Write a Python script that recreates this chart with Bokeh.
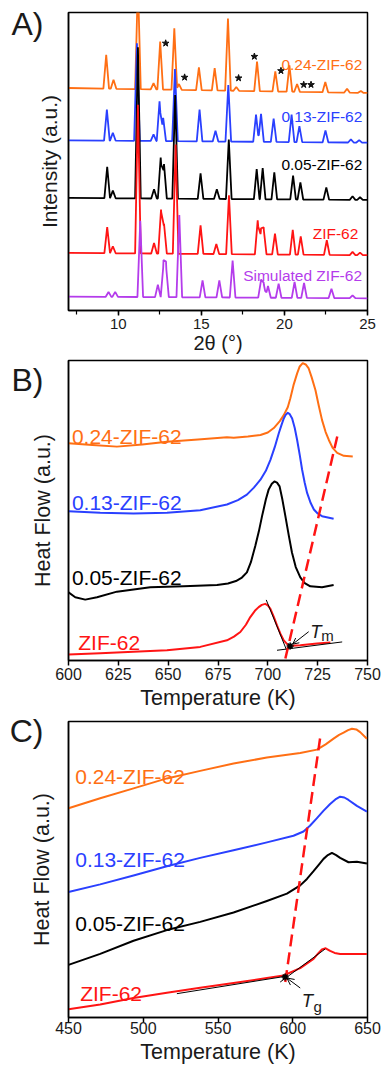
from bokeh.plotting import figure
from bokeh.layouts import column
from bokeh.models import Range1d, Label, Arrow, OpenHead, SingleIntervalTicker, FixedTicker
from bokeh.embed import file_html
from bokeh.resources import INLINE

FONT = "Liberation Sans"
C_ORANGE = "#FF6F14"
C_BLUE = "#2A40FF"
C_BLACK = "#000000"
C_RED = "#FF1414"
C_PURPLE = "#B43CEB"
TXT = "#1a1a1a"

# ---------------- Panel A: PXRD (peak tables) ----------------
xrd_range = [7, 25]
xrd_yrange = [0, 300]

orange_x = [9.27, 9.71, 11.18, 12.12, 12.52, 13.37, 13.65, 14.85, 15.80, 16.60, 17.10, 18.35, 19.45, 20.30, 20.76, 22.46, 23.77, 24.60]
orange_y = [257.3, 232.3, 330.0, 229.0, 270.7, 284.0, 228.0, 244.7, 244.0, 294.0, 225.0, 250.7, 240.7, 246.7, 228.0, 230.0, 223.3, 221.0]
orange_base = [224.0, 219.0]

blue_x = [9.31, 9.67, 11.12, 12.12, 12.48, 12.70, 13.41, 14.89, 15.85, 16.62, 18.29, 18.59, 19.35, 20.43, 20.90, 22.47, 24.00, 24.50]
blue_y = [202.3, 179.0, 269.0, 177.3, 210.7, 194.0, 243.0, 202.3, 181.0, 227.0, 197.3, 198.0, 193.3, 197.3, 185.7, 181.3, 172.3, 171.5]
blue_base = [171.3, 169.0]

black_x = [9.33, 9.67, 11.18, 12.15, 12.55, 12.75, 13.42, 14.95, 15.93, 16.65, 18.33, 18.69, 19.39, 20.52, 20.96, 22.52, 24.10, 24.55]
black_y = [144.7, 120.7, 265.0, 122.0, 154.0, 147.3, 217.0, 138.0, 122.0, 172.0, 142.3, 143.3, 139.0, 135.7, 129.0, 124.0, 115.0, 114.0]
black_base = [113.3, 111.3]

red_x = [9.33, 9.67, 11.18, 12.15, 12.57, 12.75, 13.45, 14.95, 15.90, 16.66, 18.39, 18.59, 18.75, 19.43, 20.50, 20.98, 22.55, 24.10, 24.55]
red_y = [84.0, 64.7, 207.0, 68.0, 101.7, 87.3, 167.0, 85.7, 67.0, 116.0, 90.7, 81.3, 82.3, 77.3, 81.3, 74.7, 70.7, 59.0, 58.3]
red_base = [58.0, 55.7]

purple_x = [9.41, 9.81, 11.32, 12.38, 12.72, 12.87, 13.67, 15.07, 16.08, 16.88, 18.59, 18.75, 19.01, 19.65, 20.61, 21.18, 22.83, 24.10]
purple_y = [18.7, 18.7, 90.3, 26.0, 47.0, 45.3, 96.0, 30.3, 30.3, 50.3, 30.3, 27.0, 24.7, 27.0, 28.7, 27.7, 22.0, 15.3]
purple_base = [14.0, 12.3]

star_x = [12.85, 13.99, 17.24, 18.19, 19.79, 21.16, 21.60]
star_y = [269.0, 234.7, 234.0, 255.7, 241.3, 227.3, 227.3]

xrd_names = ["0.24-ZIF-62", "0.13-ZIF-62", "0.05-ZIF-62", "ZIF-62", "Simulated ZIF-62"]
xrd_label_x = [24.69, 24.69, 24.69, 24.45, 24.67]
xrd_label_y = [247.2, 195.8, 147.2, 77.2, 34.8]

# ---------------- Panel B: DSC melting ----------------
B_xrange = [600, 750]
B_yrange = [0, 302]
B_orange_T = [600, 612, 624.3, 637, 649.4, 665, 679.5, 682.9, 690, 696.3, 700, 703, 706, 708, 710, 711.3, 713, 714.7, 716, 717.5, 719, 720.5, 722, 723.9, 725.5, 727.2, 729, 730.6, 732.5, 734.8, 738.1, 742.6]
B_orange_y = [218.7, 217.0, 215.3, 217.5, 220.3, 222.5, 224.7, 224.3, 225.5, 227.0, 229.5, 234.0, 241.0, 247.0, 255.0, 264.0, 278.0, 289.0, 296.0, 299.3, 298.0, 294.0, 285.0, 272.0, 257.0, 242.0, 230.0, 222.0, 214.0, 209.0, 206.0, 205.3]
B_blue_T = [600, 615.9, 632.6, 649.4, 666.1, 679.5, 685, 689.5, 693, 696.3, 699, 701.3, 703.5, 705.5, 707, 708, 709, 710, 711, 712.2, 713.5, 714.7, 716, 717.2, 718.5, 719.7, 721.5, 723.1, 725, 727.2, 733]
B_blue_y = [150.3, 148.7, 148.0, 148.7, 151.3, 157.0, 161.5, 167.0, 174.0, 182.0, 191.0, 202.0, 215.0, 228.7, 238.0, 243.7, 247.5, 249.3, 248.0, 243.7, 234.0, 222.0, 207.0, 192.0, 179.0, 168.7, 158.5, 152.0, 148.0, 145.3, 142.7]
B_black_T = [600, 603.4, 608.4, 614.3, 624.3, 641, 657.8, 674.5, 680, 684, 687, 689.5, 691.5, 693.7, 695.5, 697.1, 699, 700.4, 702, 703.3, 704.6, 705.9, 707.3, 708.8, 710.5, 712.1, 714, 716.3, 718.5, 721.3, 727.2, 733]
B_black_y = [68.7, 63.7, 61.3, 63.7, 69.3, 73.7, 74.7, 76.0, 77.5, 80.0, 83.5, 88.7, 99.0, 115.3, 130.0, 145.3, 162.0, 172.0, 178.0, 180.3, 179.0, 175.3, 162.0, 145.3, 126.0, 108.7, 94.0, 83.7, 78.0, 74.7, 73.7, 76.0]
B_red_T = [600, 615.9, 632.6, 649.4, 666.1, 679.5, 683, 686.2, 689, 691.2, 693.5, 695.4, 697, 698.7, 700, 701.3, 703, 704.6, 706.3, 708, 710.5, 716.3, 724.7, 731.4]
B_red_y = [6.0, 7.3, 8.7, 10.3, 13.7, 20.3, 24.0, 28.7, 36.0, 43.7, 50.0, 53.7, 56.0, 57.0, 55.5, 52.0, 44.0, 35.3, 27.0, 20.3, 14.7, 15.3, 17.0, 18.0]
B_tan1_T = [699.2, 709.6]
B_tan1_y = [61.0, 9.5]
B_tan2_T = [704.6, 737.3]
B_tan2_y = [10.3, 18.7]
B_tm_T = [711.2]
B_tm_y = [14.7]
B_dash_T = [708.8, 735.2]
B_dash_y = [2.0, 228.7]
B_label_x = [601.7, 601.7, 601.7, 604.9]
B_label_y = [225.2, 159.5, 83.5, 17.8]

# ---------------- Panel C: DSC glass transition ----------------
C_xrange = [450, 650]
C_yrange = [3, 301]
C_orange_T = [450, 471.2, 493.5, 515.8, 538.1, 560.4, 582.7, 605, 616.2, 622, 627.3, 631, 634, 637, 639.6, 642.5, 645.1, 649.6]
C_orange_y = [213.7, 223.7, 233.7, 243.7, 251.3, 258.7, 264.7, 269.3, 272.7, 278.0, 283.7, 287.5, 289.7, 292.3, 293.7, 293.0, 290.3, 283.7]
C_blue_T = [450, 471.2, 493.5, 515.8, 538.1, 560.4, 582.7, 600.5, 607.2, 611.5, 616.2, 620.5, 625, 628.5, 631.7, 634.5, 637.3, 642.9, 649.6]
C_blue_y = [129.3, 137.0, 146.0, 155.3, 163.7, 171.3, 179.3, 186.0, 190.3, 196.0, 203.7, 211.0, 218.0, 222.5, 225.3, 224.5, 222.0, 216.0, 210.3]
C_black_T = [450, 471.2, 493.5, 515.8, 538.1, 560.4, 582.7, 596.1, 605, 609.5, 613.9, 617.5, 620.6, 623.5, 626.2, 629, 631.7, 637.3, 642.9, 649.6]
C_black_y = [56.0, 67.0, 80.3, 91.0, 99.3, 108.7, 120.3, 127.7, 136.0, 142.5, 150.3, 157.0, 162.7, 166.5, 168.7, 166.5, 163.7, 159.3, 159.7, 158.0]
C_red_T = [450, 471.2, 493.5, 515.8, 538.1, 560.4, 582.7, 593.8, 605, 613.9, 617, 619.5, 622, 625, 628, 631.7, 638.4, 649.6]
C_red_y = [11.3, 16.0, 22.7, 28.0, 33.0, 37.7, 42.7, 45.3, 52.7, 62.0, 67.5, 71.5, 72.7, 70.0, 68.0, 67.0, 67.0, 67.0]
C_tan1_T = [522.5, 596.1]
C_tan1_y = [27.0, 44.7]
C_tan2_T = [591.6, 621.7]
C_tan2_y = [38.7, 72.0]
C_tg_T = [594.9]
C_tg_y = [43.7]
C_dash_T = [595.0, 618.4]
C_dash_y = [38.7, 285.3]
C_label_x = [454.5, 454.5, 454.5, 457.8]
C_label_y = [245.5, 161.8, 97.2, 27.2]

dsc_names = ["0.24-ZIF-62", "0.13-ZIF-62", "0.05-ZIF-62", "ZIF-62"]
series_colors = [C_ORANGE, C_BLUE, C_BLACK, C_RED, C_PURPLE]

# panel letters, drawn as the single tick label of each left axis
panel_letters = ["A)", "B)", "C)"]
letter_tick = [288, 293, 291]


def xrd_profile(px, py, base, hw=0.17):
    lo, hi = xrd_range

    def b(x):
        return base[0] + (base[1] - base[0]) * (x - lo) / (hi - lo)

    xs = sorted({lo, hi, *[c + d for c in px for d in (-hw, 0.0, hw)]})
    xs = [x for x in xs if lo <= x <= hi]
    ys = [b(x) + sum(max(0.0, (t - b(c)) * (1 - abs(x - c) / hw)) for c, t in zip(px, py)) for x in xs]
    return xs, ys


def make_fig(height, xr, yr, top, bottom, letter, tick, ylabel, ylabel_size, ylabel_standoff):
    p = figure(width=382, height=height, x_range=Range1d(*xr), y_range=Range1d(*yr),
               output_backend="svg", toolbar_location=None,
               min_border_left=68, min_border_right=15, min_border_top=top, min_border_bottom=bottom)
    p.grid.visible = False
    p.outline_line_color = "black"
    p.outline_line_width = 1.5
    p.outline_line_alpha = 1.0
    p.background_fill_color = "white"
    p.border_fill_color = "white"
    for ax in (p.xaxis, p.yaxis):
        ax.axis_line_width = 1.5
        ax.axis_line_color = "black"
        ax.major_tick_line_width = 1.5
        ax.minor_tick_line_width = 1.2
        ax.major_tick_in = 0
        ax.minor_tick_in = 0
        ax.major_label_text_font = FONT
        ax.major_label_text_color = TXT
        ax.axis_label_text_font = FONT
        ax.axis_label_text_font_style = "normal"
        ax.axis_label_text_color = TXT
    p.yaxis.ticker = FixedTicker(ticks=[tick])
    p.yaxis.major_label_overrides = {tick: letter}
    p.yaxis.major_label_text_font_size = "32px"
    p.yaxis.major_tick_out = 0
    p.yaxis.minor_tick_out = 0
    p.yaxis.major_tick_line_color = None
    p.yaxis.major_label_standoff = 25
    p.yaxis.axis_label = ylabel
    p.yaxis.axis_label_text_font_size = ylabel_size
    p.yaxis.axis_label_standoff = ylabel_standoff
    return p


# ---------------- Figure A ----------------
pA = make_fig(356, xrd_range, xrd_yrange, 12, 44, panel_letters[0], letter_tick[0],
              "Intensity (a.u.)", "21px", -52)
pA.xaxis.ticker = SingleIntervalTicker(interval=5, num_minor_ticks=2)
pA.xaxis.major_tick_out = 5
pA.xaxis.minor_tick_out = 4
pA.xaxis.major_label_text_font_size = "15px"
pA.xaxis.major_label_standoff = 3
pA.xaxis.axis_label = "2θ (°)"
pA.xaxis.axis_label_text_font_size = "20px"
pA.xaxis.axis_label_standoff = 0

for (px, py, base), col in zip([(orange_x, orange_y, orange_base), (blue_x, blue_y, blue_base),
                                 (black_x, black_y, black_base), (red_x, red_y, red_base),
                                 (purple_x, purple_y, purple_base)], series_colors):
    xs, ys = xrd_profile(px, py, base)
    pA.line(xs, ys, line_color=col, line_width=1.8)

pA.scatter(star_x, star_y, marker="star", size=7, fill_color="#111111", line_color="#111111")

for name, lx, ly, col in zip(xrd_names, xrd_label_x, xrd_label_y, series_colors):
    pA.add_layout(Label(x=lx, y=ly, text=name, text_font=FONT, text_font_size="15.5px",
                        text_color=col, text_align="right", text_baseline="alphabetic"))

# ---------------- Figure B ----------------
pB = make_fig(356, B_xrange, B_yrange, 4, 50, panel_letters[1], letter_tick[1],
              "Heat Flow (a.u.)", "21.5px", -46)
pB.xaxis.ticker = SingleIntervalTicker(interval=25, num_minor_ticks=0)
pB.xaxis.major_tick_out = 5
pB.xaxis.major_label_text_font_size = "16px"
pB.xaxis.major_label_standoff = 2
pB.xaxis.axis_label = "Temperature (K)"
pB.xaxis.axis_label_text_font_size = "21.5px"
pB.xaxis.axis_label_standoff = 3

for (T, y), col in zip([(B_orange_T, B_orange_y), (B_blue_T, B_blue_y),
                        (B_black_T, B_black_y), (B_red_T, B_red_y)], series_colors):
    pB.line(T, y, line_color=col, line_width=2, line_join="round")
pB.line(B_tan1_T, B_tan1_y, line_color="black", line_width=1)
pB.line(B_tan2_T, B_tan2_y, line_color="black", line_width=1)
pB.line(B_dash_T, B_dash_y, line_color=C_RED, line_width=2.5, line_dash="12 6")
pB.scatter(B_tm_T, B_tm_y, marker="asterisk", size=7, line_color="black", line_width=1.5)
pB.add_layout(Arrow(end=OpenHead(size=6, line_width=1), x_start=720.5, y_start=29.0,
                    x_end=712.5, y_end=16.5, line_width=1, line_color="black"))
for name, lx, ly, col in zip(dsc_names, B_label_x, B_label_y, series_colors):
    pB.add_layout(Label(x=lx, y=ly, text=name, text_font=FONT, text_font_size="21px",
                        text_color=col, text_align="left", text_baseline="alphabetic"))
pB.add_layout(Label(x=721.3, y=28.7, text="T", text_font=FONT, text_font_size="18.5px",
                    text_font_style="italic", text_color=TXT, text_baseline="alphabetic"))
pB.add_layout(Label(x=726.8, y=25.3, text="m", text_font=FONT, text_font_size="15px",
                    text_color=TXT, text_baseline="alphabetic"))

# ---------------- Figure C ----------------
pC = make_fig(354, C_xrange, C_yrange, 9, 47, panel_letters[2], letter_tick[2],
              "Heat Flow (a.u.)", "21.5px", -47)
pC.xaxis.ticker = SingleIntervalTicker(interval=50, num_minor_ticks=0)
pC.xaxis.major_tick_out = 5
pC.xaxis.major_label_text_font_size = "16px"
pC.xaxis.major_label_standoff = -1
pC.xaxis.axis_label = "Temperature (K)"
pC.xaxis.axis_label_text_font_size = "21.5px"
pC.xaxis.axis_label_standoff = 3

for (T, y), col in zip([(C_orange_T, C_orange_y), (C_blue_T, C_blue_y),
                        (C_black_T, C_black_y), (C_red_T, C_red_y)], series_colors):
    pC.line(T, y, line_color=col, line_width=2, line_join="round")
pC.line(C_tan1_T, C_tan1_y, line_color="black", line_width=1)
pC.line(C_tan2_T, C_tan2_y, line_color="black", line_width=1)
pC.line(C_dash_T, C_dash_y, line_color=C_RED, line_width=2.5, line_dash="12 6")
pC.scatter(C_tg_T, C_tg_y, marker="asterisk", size=7, line_color="black", line_width=1.5)
pC.add_layout(Arrow(end=OpenHead(size=7, line_width=1), x_start=605.0, y_start=32.7,
                    x_end=596.1, y_end=42.7, line_width=1, line_color="black"))
for name, lx, ly, col in zip(dsc_names, C_label_x, C_label_y, series_colors):
    pC.add_layout(Label(x=lx, y=ly, text=name, text_font=FONT, text_font_size="21px",
                        text_color=col, text_align="left", text_baseline="alphabetic"))
pC.add_layout(Label(x=606.1, y=20.3, text="T", text_font=FONT, text_font_size="18.5px",
                    text_font_style="italic", text_color=TXT, text_baseline="alphabetic"))
pC.add_layout(Label(x=613.9, y=13.7, text="g", text_font=FONT, text_font_size="15px",
                    text_color=TXT, text_baseline="alphabetic"))

layout = column(pA, pB, pC)
open("out.html", "w").write(file_html(layout, INLINE))
